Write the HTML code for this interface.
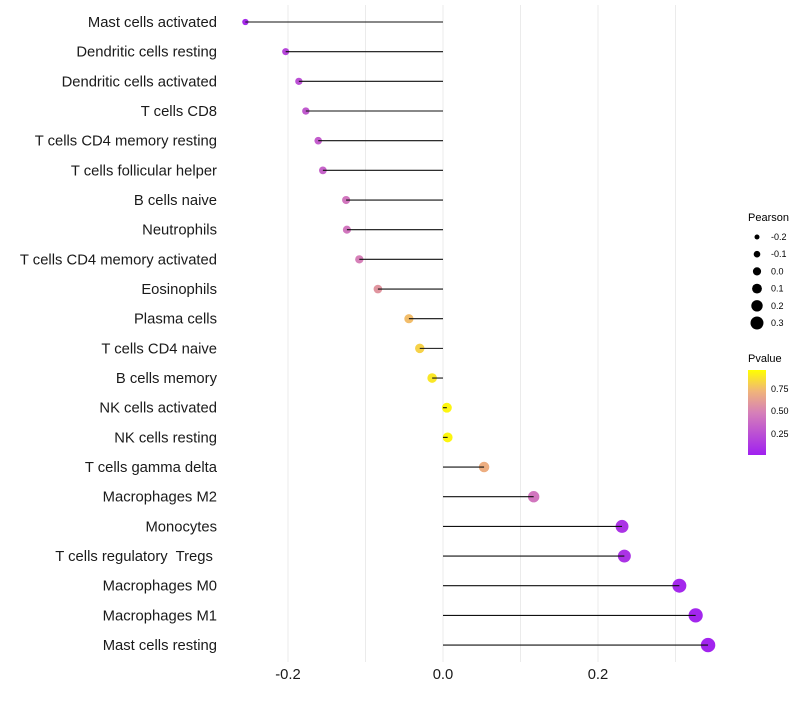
<!DOCTYPE html>
<html><head><meta charset="utf-8"><style>
body{margin:0;background:#fff;}
svg text{font-family:"Liberation Sans",sans-serif;white-space:pre;}
</style></head><body>
<svg id="chart" width="800" height="700">
<defs><linearGradient id="pg" x1="0" y1="1" x2="0" y2="0">
<stop offset="0" stop-color="#a020f0"/><stop offset="0.5" stop-color="#d680b8"/><stop offset="0.75" stop-color="#f0b47a"/><stop offset="1" stop-color="#ffff00"/>
</linearGradient></defs>
<g id="grid"></g>
<g id="marks"></g>
<g id="ylab"></g>
<g id="xlab"></g>
<g>
<text x="748" y="221" font-size="11">Pearson</text>
<g id="sizeleg"></g>
</g>
<g>
<text x="748" y="362" font-size="11">Pvalue</text>
<rect x="748" y="370" width="18" height="85" fill="url(#pg)"/>
<text x="771" y="392" font-size="9">0.75</text>
<text x="771" y="414" font-size="9">0.50</text>
<text x="771" y="437" font-size="9">0.25</text>
</g>
</svg>
<script>
const cells=["Mast cells activated","Dendritic cells resting","Dendritic cells activated","T cells CD8","T cells CD4 memory resting","T cells follicular helper","B cells naive","Neutrophils","T cells CD4 memory activated","Eosinophils","Plasma cells","T cells CD4 naive","B cells memory","NK cells activated","NK cells resting","T cells gamma delta","Macrophages M2","Monocytes","T cells regulatory  Tregs ","Macrophages M0","Macrophages M1","Mast cells resting"];
const pearson=[-0.255,-0.203,-0.186,-0.177,-0.161,-0.155,-0.125,-0.124,-0.108,-0.084,-0.044,-0.030,-0.014,0.005,0.006,0.053,0.117,0.231,0.234,0.305,0.326,0.342];
const pvalue=[0.05,0.2,0.25,0.3,0.32,0.35,0.45,0.45,0.5,0.6,0.78,0.85,0.92,0.97,0.97,0.72,0.45,0.1,0.1,0.04,0.03,0.02];
const xTicks=[-0.2,0,0.2];
const xTickLabels=["-0.2","0.0","0.2"];
const sizeLegend=[-0.2,-0.1,0.0,0.1,0.2,0.3];
const sizeLegendLabels=["-0.2","-0.1","0.0","0.1","0.2","0.3"];
const NS="http://www.w3.org/2000/svg";
const x=v=>443+v*775;
const y=i=>22+i*29.67;
const r=v=>Math.max(1.5,4.1+8*v);
const rp=v=>Math.max(1.8,4.9+6.8*v);
function lerp(a,b,t){return a.map((c,k)=>Math.round(c+(b[k]-c)*t));}
const stops=[[0,[160,32,240]],[0.5,[214,128,184]],[0.75,[240,180,122]],[1,[255,255,0]]];
function col(p){for(let k=1;k<stops.length;k++){if(p<=stops[k][0]){const t=(p-stops[k-1][0])/(stops[k][0]-stops[k-1][0]);return "rgb("+lerp(stops[k-1][1],stops[k][1],t).join(",")+")";}}return "rgb(255,255,0)";}
function mk(tag,at,parent){const e=document.createElementNS(NS,tag);for(const k in at)e.setAttribute(k,at[k]);parent.appendChild(e);return e;}
const grid=document.getElementById('grid');
for(let v=-0.3;v<=0.35;v+=0.1){const gx=x(Math.round(v*10)/10);if(gx<228||gx>720)continue;
const l=mk('line',{x1:gx,x2:gx,y1:5,y2:662,stroke:"#ebebeb","stroke-width":1},grid);

}
const marks=document.getElementById('marks'),yl=document.getElementById('ylab');
cells.forEach((c,i)=>{
const d=mk('circle',{cx:x(pearson[i]),cy:y(i),r:rp(pearson[i]),fill:col(pvalue[i])},marks);


const l=mk('line',{x1:x(0),x2:x(pearson[i]),y1:y(i),y2:y(i),stroke:"#111","stroke-width":1.1},marks);


const t=mk('text',{x:217,y:y(i)+5,"text-anchor":"end","font-size":14.8,fill:"#1a1a1a"},yl);
t.textContent=c;


});
const xl=document.getElementById('xlab');
xTicks.forEach((v,i)=>{const t=mk('text',{x:x(v),y:679,"text-anchor":"middle","font-size":14.8,fill:"#1a1a1a"},xl);
t.textContent=xTickLabels[i];

});
const sl=document.getElementById('sizeleg');
sizeLegend.forEach((v,i)=>{const cy=237+i*17.2;
const c=mk('circle',{cx:757,cy:cy,r:r(v),fill:"#000"},sl);


const t=mk('text',{x:771,y:cy+3,"font-size":9},sl);
t.textContent=sizeLegendLabels[i];

});
</script>
</body></html>
